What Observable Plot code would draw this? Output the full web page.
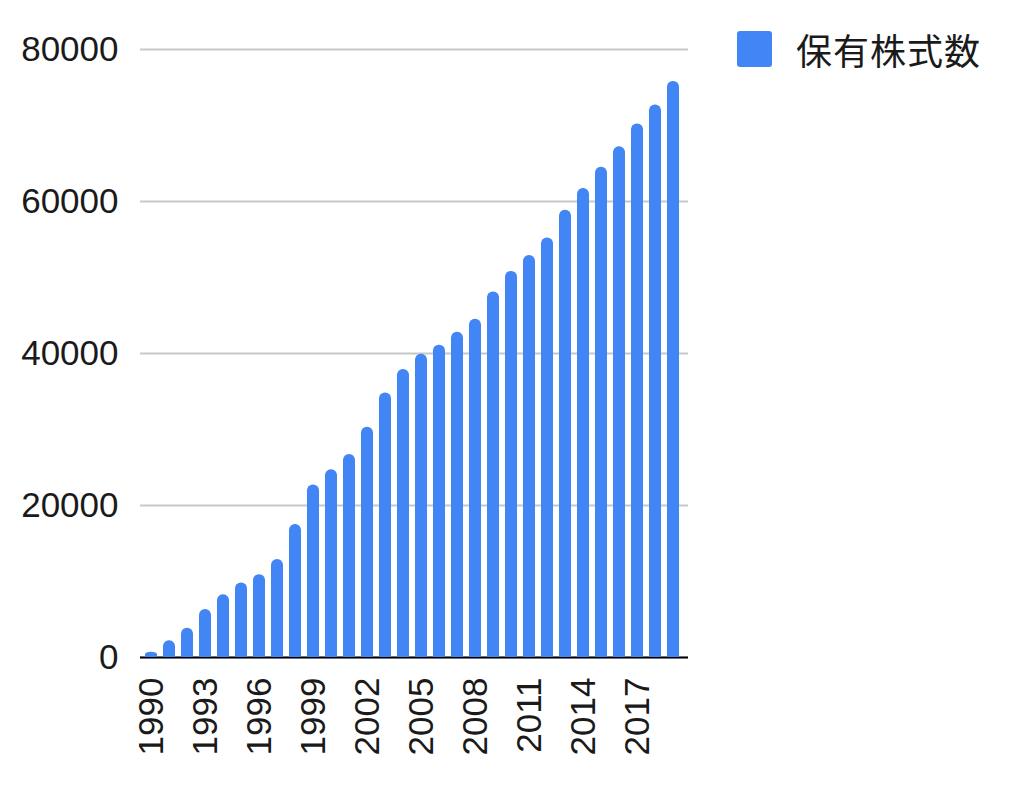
<!DOCTYPE html>
<html><head><meta charset="utf-8">
<script src="https://cdn.jsdelivr.net/npm/d3@7"></script>
<script src="https://cdn.jsdelivr.net/npm/@observablehq/plot@0.6"></script>
<style>
body{margin:0;background:#fff;}
#wrap{position:relative;width:1024px;height:808px;overflow:hidden;}
#legend{position:absolute;left:737px;top:31px;display:flex;align-items:center;height:36px;}
#legend .sw{width:35px;height:36px;background:#4285F4;border-radius:3px;}
#legend .lb{margin-left:24px;font-family:"Noto Sans CJK JP","Noto Sans CJK SC",sans-serif;font-size:36px;letter-spacing:1px;color:#1a1a1a;line-height:36px;}
</style>
</head><body>
<div id="wrap"><div id="chart"></div>
<div id="legend"><div class="sw"></div><div class="lb">保有株式数</div></div>
</div>
<script>
const years = ["1990","1991","1992","1993","1994","1995","1996","1997","1998","1999","2000","2001","2002","2003","2004","2005","2006","2007","2008","2009","2010","2011","2012","2013","2014","2015","2016","2017","2018","2019"];
const values = [700,2200,3850,6300,8250,9800,10900,12900,17500,22700,24700,26700,30300,34800,37900,39900,41100,42800,44500,48100,50800,52900,55200,58850,61700,64500,67200,70200,72700,75800];
const xTicks = ["1990","1993","1996","1999","2002","2005","2008","2011","2014","2017"];
const yTicks = [0,20000,40000,60000,80000];

const data = years.map((y,i)=>({year:y, value:values[i]}));

const chart = Plot.plot({
  width:1024, height:808,
  marginLeft:140, marginRight:336, marginTop:49, marginBottom:151,
  style:{fontFamily:"'Liberation Sans', Arial, sans-serif", fontSize:"35px", color:"#1a1a1a", background:"#fff"},
  x:{type:"band", domain:years, paddingInner:0.36, paddingOuter:0.385, align:0.34},
  y:{domain:[0,80000]},
  marks:[
    Plot.gridY(yTicks, {stroke:"#c8c8c8", strokeOpacity:1, strokeWidth:2}),
    Plot.ruleY([0], {stroke:"#000", strokeWidth:2}),
    Plot.barY(data, {x:"year", y:"value", fill:"#4285F4", rx:5.8}),
    Plot.barY(data, {x:"year", y1:0, y2:d=>d.value/2, fill:"#4285F4"}),
    Plot.axisY(yTicks, {tickSize:0, tickPadding:22, tickFormat:d3.format("d"), fontSize:35, label:null}),
    Plot.axisX(xTicks, {tickSize:0, tickRotate:-90, tickPadding:20, fontSize:35, label:null})
  ]
});
document.getElementById("chart").appendChild(chart);
</script>
</body></html>
